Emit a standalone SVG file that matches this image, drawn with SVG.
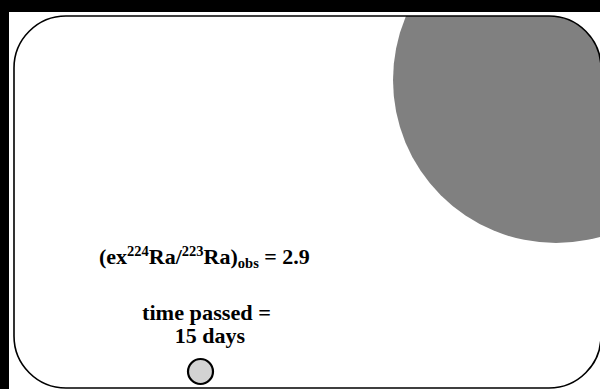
<svg xmlns="http://www.w3.org/2000/svg" width="600" height="389" viewBox="0 0 600 389">
<style>
.t{font-family:"Liberation Serif","Times New Roman",serif;font-weight:bold;fill:#000;font-size:22px;}
.s{font-size:14.5px;}
</style>
<defs>
<clipPath id="frameClip"><rect x="14" y="16" width="587" height="372" rx="52" ry="52"/></clipPath>
</defs>
<rect x="0" y="0" width="600" height="389" fill="#000"/>
<rect x="9" y="12" width="591" height="377" fill="#fff"/>
<g id="frame">
<circle cx="556" cy="80" r="163" fill="#808080" clip-path="url(#frameClip)"/>
<rect x="14" y="16" width="587" height="372" rx="52" ry="52" fill="none" stroke="#000" stroke-width="1.6"/>
</g>
<g id="labels">
<text class="t" x="99" y="264">(ex<tspan class="s" dy="-8">224</tspan><tspan dy="8">Ra/</tspan><tspan class="s" dy="-8">223</tspan><tspan dy="8">Ra)</tspan><tspan class="s" dy="4">obs</tspan><tspan dy="-4"> = 2.9</tspan></text>
<text class="t" x="142" y="320" textLength="129" lengthAdjust="spacingAndGlyphs">time passed =</text>
<text class="t" x="210" y="343" text-anchor="middle" font-size="23">15 days</text>
</g>
<g id="marker">
<circle cx="200.5" cy="371.5" r="12.5" fill="#d3d3d3" stroke="#000" stroke-width="2.2"/>
</g>
<g id="connectors"></g>
</svg>
